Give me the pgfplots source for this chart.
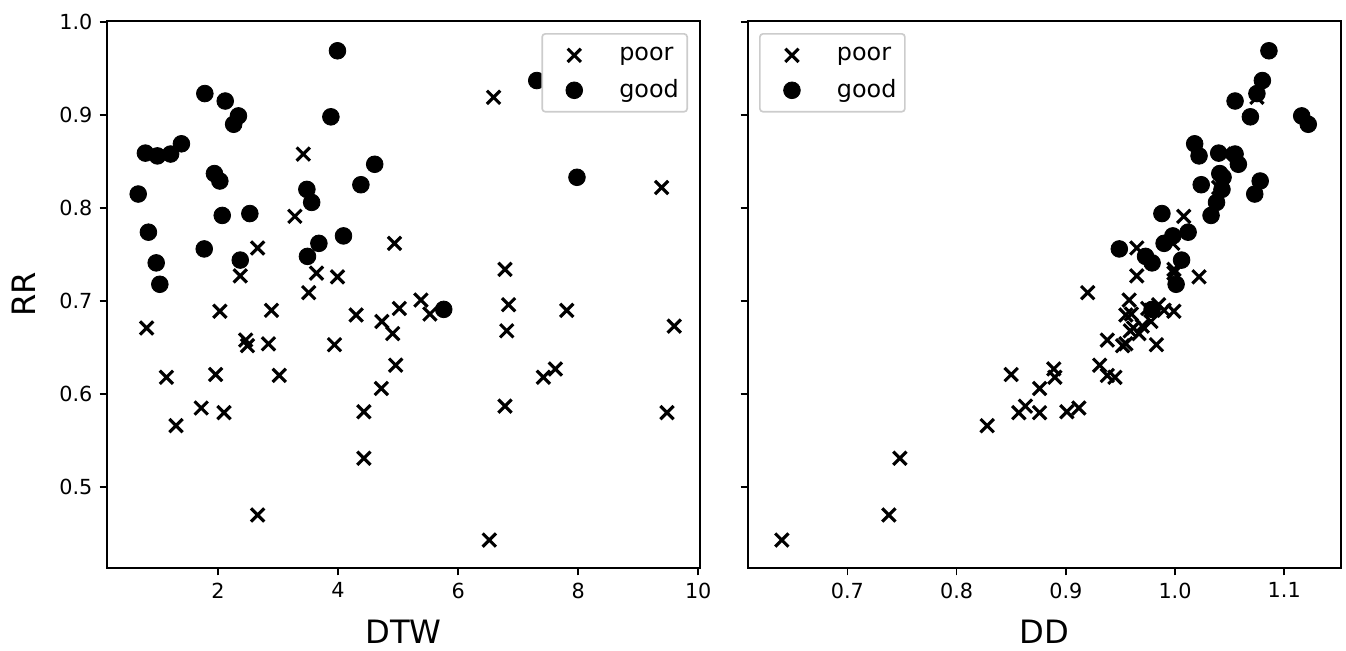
\documentclass[border=0pt]{standalone}
\usepackage{fontspec}
\setmainfont{DejaVu Sans}
\usepackage{pgfplots}
\usepackage{pgfplotstable}
\pgfplotsset{compat=1.18}

% poor / good runs: DTW distance, DD ratio, RR score
\pgfplotstableread{
dtw  dd    rr
6.52 0.640 0.443
2.66 0.738 0.470
4.43 0.748 0.531
1.30 0.828 0.566
2.10 0.857 0.580
9.48 0.876 0.580
4.43 0.901 0.581
1.72 0.912 0.585
6.78 0.863 0.587
4.72 0.876 0.606
1.14 0.890 0.618
7.42 0.945 0.618
3.02 0.938 0.620
1.96 0.850 0.621
7.62 0.889 0.627
4.96 0.931 0.631
2.49 0.952 0.652
3.94 0.983 0.653
2.84 0.955 0.654
2.46 0.938 0.658
4.91 0.967 0.665
6.81 0.959 0.668
0.81 0.962 0.671
9.60 0.970 0.673
4.73 0.978 0.678
4.30 0.955 0.685
5.53 0.960 0.686
2.03 0.999 0.689
2.89 0.990 0.690
7.81 0.978 0.690
5.02 0.975 0.692
6.84 0.985 0.696
5.38 0.958 0.701
3.51 0.920 0.709
3.99 1.022 0.726
2.37 0.965 0.727
3.64 0.999 0.730
6.78 0.999 0.734
2.66 0.965 0.757
4.94 0.998 0.762
3.28 1.008 0.791
9.39 1.040 0.822
3.42 1.045 0.858
6.59 1.075 0.919
}\poor

\pgfplotstableread{
dtw  dd    rr
3.99 1.086 0.969
7.31 1.080 0.937
1.78 1.075 0.923
2.12 1.055 0.915
2.34 1.116 0.899
3.88 1.069 0.898
2.26 1.122 0.890
1.39 1.018 0.869
0.79 1.040 0.859
1.21 1.055 0.858
0.99 1.022 0.856
4.61 1.058 0.847
1.94 1.041 0.837
7.98 1.044 0.833
2.03 1.078 0.829
4.38 1.024 0.825
3.48 1.043 0.820
0.67 1.073 0.815
3.56 1.038 0.806
2.53 0.988 0.794
2.07 1.033 0.792
0.84 1.012 0.774
4.09 0.998 0.770
3.68 0.990 0.762
1.77 0.949 0.756
3.49 0.973 0.748
2.37 1.006 0.744
0.97 0.979 0.741
1.03 1.001 0.718
5.76 0.979 0.691
}\good

\pgfplotsset{
  panel/.style={
    scale only axis, width=284.64bp, height=262.56bp,
    ymin=0.413, ymax=1.001,
    ytick={0.5,0.6,0.7,0.8,0.9,1.0},
    yticklabel style={/pgf/number format/.cd, fixed, fixed zerofill, precision=1},
    axis line style={line width=0.8bp},
    tick align=outside, tick pos=left,
    major tick length=3.5bp,
    every tick/.style={black, line width=0.8bp},
    tick label style={font=\fontsize{10}{12}\selectfont},
    label style={font=\fontsize{15.5}{18}\selectfont},
    /pgf/number format/assume math mode=true,
    legend cell align=left,
    legend style={draw=black!20, line width=0.8bp, rounded corners=1.5bp,
      fill=white, inner xsep=0pt, inner ysep=1.9bp,
      row sep=0pt, column sep=0pt,
      font=\fontsize{11.5}{13}\selectfont,
      nodes={inner sep=0pt, text width=32.6bp, align=left}},
  },
  pt/.style={only marks,
    legend image code/.code={
      \path[draw=none, fill=none] (0bp,-8.4bp) rectangle (37bp,8.4bp);
      \draw[##1] plot coordinates {(15.4bp,0bp)};}},
  poorpt/.style={pt, mark=x, mark size=4.5bp,
    mark options={black, line width=1.5bp}},
  goodpt/.style={pt, mark=*, mark size=4bp,
    mark options={black, fill=black, line width=0.4bp}},
}

\begin{document}
\begin{tikzpicture}
\begin{axis}[panel,
  xmin=0.15, xmax=10.03, xtick={2,4,6,8,10},
  xlabel={DTW}, ylabel={RR},
  xlabel style={at={(axis description cs:0.5,-0.117)}, anchor=center},
  ylabel style={at={(axis description cs:-0.14,0.5)}, anchor=center},
  legend style={at={(axis description cs:1,1)}, anchor=north east,
    xshift=-5.76bp, yshift=-5.76bp},
]
  \addplot[poorpt] table[x=dtw, y=rr] {\poor};
  \addplot[goodpt] table[x=dtw, y=rr] {\good};
  \legend{poor, good}
\end{axis}

\begin{axis}[panel, at={(307.68bp,0bp)},
  xmin=0.609, xmax=1.152, xtick={0.7,0.8,0.9,1.0,1.1},
  xticklabel style={/pgf/number format/.cd, fixed, fixed zerofill, precision=1},
  yticklabels={},
  xlabel={DD},
  xlabel style={at={(axis description cs:0.5,-0.117)}, anchor=center},
  legend style={at={(axis description cs:0,1)}, anchor=north west,
    xshift=5.3bp, yshift=-5.76bp},
]
  \addplot[poorpt] table[x=dd, y=rr] {\poor};
  \addplot[goodpt] table[x=dd, y=rr] {\good};
  \legend{poor, good}
\end{axis}

\path (-51.36bp,-39.84bp) rectangle (594.72bp,272.64bp);
\end{tikzpicture}
\end{document}
